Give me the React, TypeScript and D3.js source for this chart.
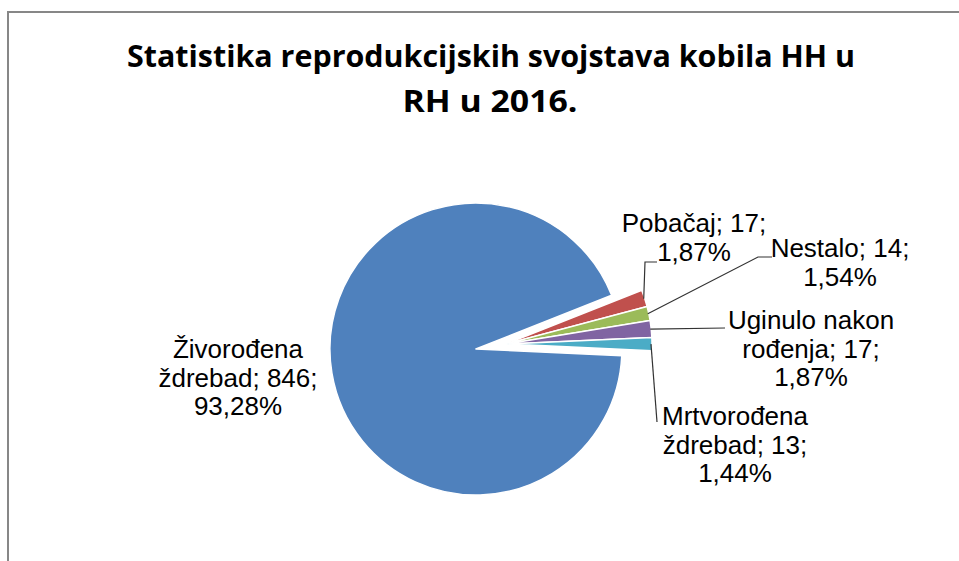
import React from "react";
import * as d3 from "d3";

const categories = [
  "Pobačaj",
  "Nestalo",
  "Uginulo nakon rođenja",
  "Mrtvorođena ždrebad",
  "Živorođena ždrebad",
];
const values = [17, 14, 17, 13, 846];
const percentLabels = ["1,87%", "1,54%", "1,87%", "1,44%", "93,28%"];
const colors = ["#C0504D", "#9BBB59", "#8064A2", "#4BACC6", "#4F81BD"];
const titleLines = ["Statistika reprodukcijskih svojstava kobila HH u", "RH u 2016."];

// label line breaking (text layout only)
const labelLines = [
  ["Pobačaj; 17;", "1,87%"],
  ["Nestalo; 14;", "1,54%"],
  ["Uginulo  nakon", "rođenja; 17;", "1,87%"],
  ["Mrtvorođena", "ždrebad;  13;", "1,44%"],
  ["Živorođena", "ždrebad; 846;", "93,28%"],
];

// layout
const W = 959;
const H = 561;
const CX = 506;
const CY = 344;
const R = 146;
const EXPLODE = 30.5;
const START = (68.4 * Math.PI) / 180;
const LABEL_POS = [
  { x: 694, y: 232 },
  { x: 840, y: 257 },
  { x: 811, y: 329 },
  { x: 735, y: 425 },
  { x: 238, y: 358 },
];
const LINE_H = 28.5;
const LEADER_ENDS: [number, number][][] = [
  [[645, 262], [657, 262]],
  [[758, 257], [772, 257]],
  [[725, 328]],
  [[657, 422]],
  [],
];

export default function App() {
  const pie = d3
    .pie<number>()
    .sort(null)
    .startAngle(START)
    .endAngle(START + 2 * Math.PI)
    .value((d) => d);
  const arcs = pie(values);
  const arc = d3.arc<d3.PieArcDatum<number>>().innerRadius(0).outerRadius(R);
  const exploded = (i: number) => (i === values.length - 1 ? EXPLODE : 0);

  return (
    <svg
      width={W}
      height={H}
      style={{ position: "absolute", left: 0, top: 0, background: "#fff" }}
    >
      <rect x={0} y={0} width={W} height={H} fill="#fff" />
      <rect
        x={8}
        y={12}
        width={1200}
        height={1000}
        fill="none"
        stroke="#878787"
        strokeWidth={2}
      />
      <g
        fontFamily="'Open Sans', 'Liberation Sans', sans-serif"
        fontWeight={700}
        fontSize={30}
        fill="#000"
        textAnchor="middle"
      >
        <text x={491} y={67} textLength={728} lengthAdjust="spacingAndGlyphs">
          {titleLines[0]}
        </text>
        <text x={490} y={112} textLength={175} lengthAdjust="spacingAndGlyphs">
          {titleLines[1]}
        </text>
      </g>
      <g>
        {arcs.map((a, i) => {
          const mid = (a.startAngle + a.endAngle) / 2;
          const dx = Math.sin(mid) * exploded(i);
          const dy = -Math.cos(mid) * exploded(i);
          return (
            <path
              key={categories[i]}
              d={arc(a) || ""}
              transform={`translate(${CX + dx},${CY + dy})`}
              fill={colors[i]}
              stroke="#fff"
              strokeWidth={1.5}
              strokeLinejoin="round"
            />
          );
        })}
      </g>
      <g fill="none" stroke="#333" strokeWidth={1.2}>
        {arcs.map((a, i) => {
          const ends = LEADER_ENDS[i];
          if (!ends.length) return null;
          const mid = (a.startAngle + a.endAngle) / 2;
          const sx = CX + Math.sin(mid) * (R - 1);
          const sy = CY - Math.cos(mid) * (R - 1);
          const pts: [number, number][] = [[sx, sy], ...ends];
          return <path key={"l" + i} d={d3.line()(pts) || ""} />;
        })}
      </g>
      <g
        fontFamily="'Liberation Sans', Arial, sans-serif"
        fontSize={26}
        fill="#000"
        textAnchor="middle"
        style={{ whiteSpace: "pre" }}
      >
        {labelLines.map((lines, i) => (
          <text key={"t" + i} x={LABEL_POS[i].x} y={LABEL_POS[i].y}>
            {lines.map((ln, j) => (
              <tspan key={j} x={LABEL_POS[i].x} y={LABEL_POS[i].y + j * LINE_H}>
                {ln}
              </tspan>
            ))}
          </text>
        ))}
      </g>
    </svg>
  );
}
